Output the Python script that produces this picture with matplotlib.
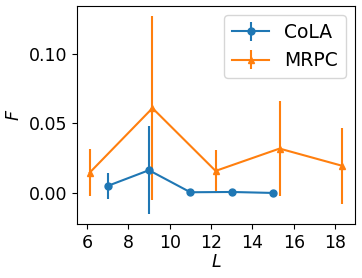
import numpy as np
import matplotlib
matplotlib.use("Agg")
import matplotlib.pyplot as plt

plt.rcParams['font.size'] = 12.5

# CoLA
cola_L = [7, 9, 11, 13, 15]
cola_F = [0.0052, 0.0165, 0.0007, 0.0009, 0.0002]
cola_err = [0.0096, 0.0315, 0.0004, 0.0004, 0.0003]

# MRPC
mrpc_L = [6.14, 9.17, 12.22, 15.31, 18.35]
mrpc_F = [0.0148, 0.061, 0.016, 0.032, 0.0196]
mrpc_err = [0.0167, 0.066, 0.0147, 0.034, 0.027]

fig = plt.figure(figsize=(3.62, 2.78), dpi=100)
ax = fig.add_axes([0.213, 0.194, 0.768, 0.784])
ax.errorbar(cola_L, cola_F, yerr=cola_err, marker='o', markersize=5, label='CoLA')
ax.errorbar(mrpc_L, mrpc_F, yerr=mrpc_err, marker='^', markersize=5, label='MRPC')
ax.set_xlabel('$L$', labelpad=1)
ax.set_ylabel('$F$')
ax.set_xticks([6, 8, 10, 12, 14, 16, 18])
ax.set_yticks([0.0, 0.05, 0.10])
ax.legend(loc='upper right', fontsize=13.5)

fig.savefig('out.png')
